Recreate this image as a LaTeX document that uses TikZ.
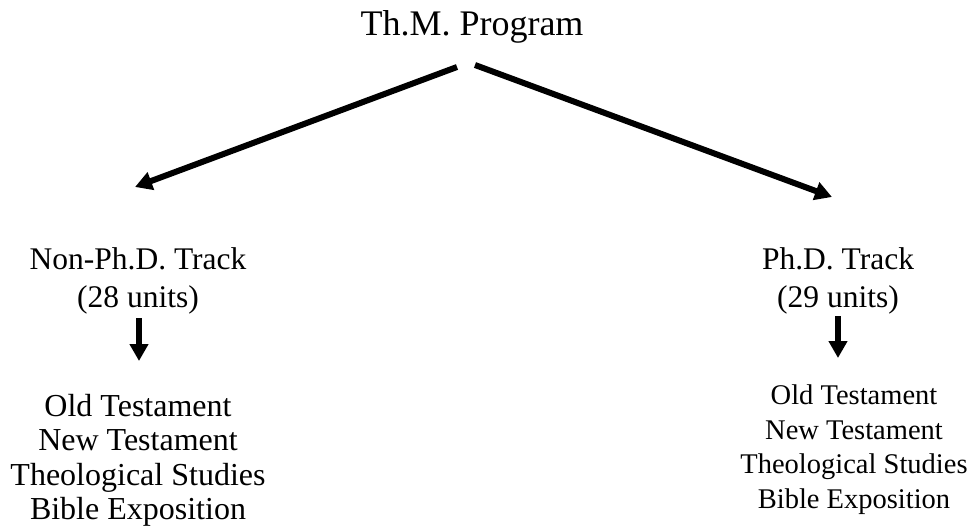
\documentclass[tikz,border=0pt]{standalone}
\usepackage{fontspec}
\setmainfont{Liberation Serif}
\usetikzlibrary{arrows.meta}
\begin{document}
\begin{tikzpicture}[x=1pt,y=-1pt,
  lbl/.style={inner sep=0pt,anchor=base,font=\fontsize{32}{34.5}\selectfont},
  hdr/.style={inner sep=0pt,anchor=base,font=\fontsize{31.5}{34.5}\selectfont},
  rlbl/.style={inner sep=0pt,anchor=base,font=\fontsize{28.5}{34.5}\selectfont},
  ttl/.style={inner sep=0pt,anchor=base,font=\fontsize{36}{40}\selectfont},
  arr/.style={line width=6pt,-{Triangle[length=17pt,width=18pt]}}]
\useasboundingbox (0,0) rectangle (969,525);
\node[ttl] (title) at (472,35) {Th.M. Program};
\node[hdr] (nph1) at (138,269) {Non-Ph.D. Track};
\node[hdr] (nph2) at (138,307) {(28 units)};
\node[hdr] (ph1) at (838,269) {Ph.D. Track};
\node[hdr] (ph2) at (838,307) {(29 units)};
\node[lbl] (l1) at (138,416) {Old Testament};
\node[lbl] (l2) at (138,450) {New Testament};
\node[lbl] (l3) at (138,485) {Theological Studies};
\node[lbl] (l4) at (138,519) {Bible Exposition};
\node[rlbl] (r1) at (854,404) {Old Testament};
\node[rlbl] (r2) at (854,439) {New Testament};
\node[rlbl] (r3) at (854,473) {Theological Studies};
\node[rlbl] (r4) at (854,508) {Bible Exposition};
\coordinate (ls) at (457,67);
\coordinate (le) at (135,187);
\coordinate (rs) at (475,65);
\coordinate (re) at (832,197);
\coordinate (lvs) at (139,318);
\coordinate (lve) at (139,361);
\coordinate (rvs) at (838,316);
\coordinate (rve) at (838,358);
\draw[arr] (ls) -- (le);
\draw[arr] (rs) -- (re);
\draw[arr] (lvs) -- (lve);
\draw[arr] (rvs) -- (rve);
\end{tikzpicture}
\end{document}
